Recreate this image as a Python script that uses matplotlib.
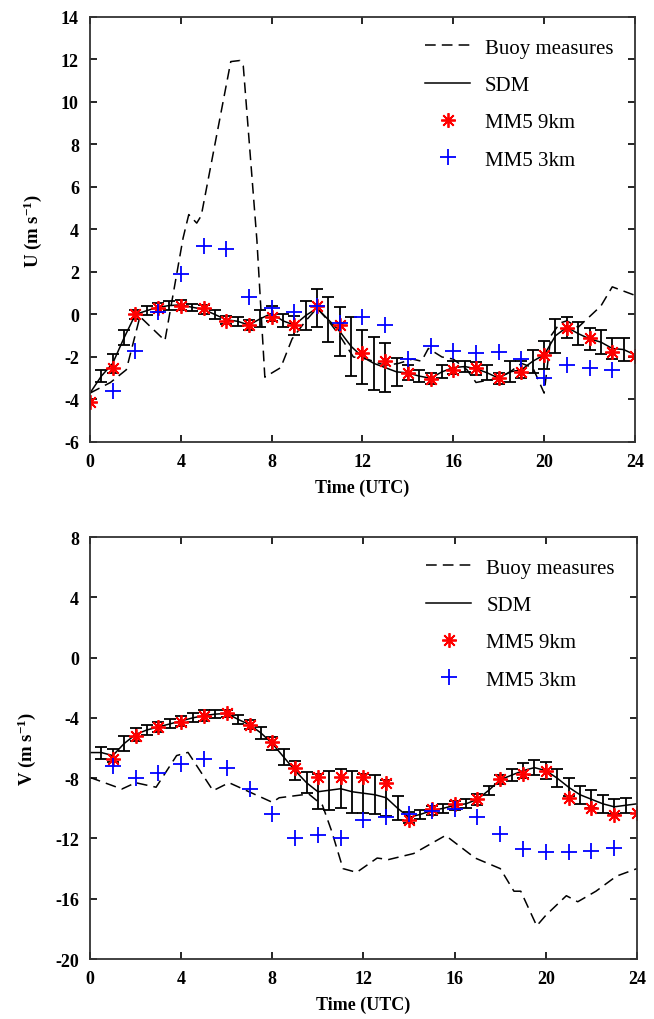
import matplotlib
matplotlib.use('Agg')
import matplotlib.pyplot as plt

plt.rcParams['font.family'] = 'Liberation Serif'
plt.rcParams['axes.unicode_minus'] = False
plt.rcParams['mathtext.fontset'] = 'custom'
plt.rcParams['mathtext.rm'] = 'Liberation Serif:bold'
plt.rcParams['mathtext.it'] = 'Liberation Serif:bold'
plt.rcParams['mathtext.bf'] = 'Liberation Serif:bold'

# hourly model output
hours = list(range(25))
sdm_t = [i / 2 for i in range(49)]

# ---- U component ----
buoy_u_t = [0, 0.9, 1.6, 2.2, 3.3, 4.1, 4.35, 4.7, 4.9, 6.2, 6.6, 6.75, 7.35, 7.7, 8.4, 8.9,
            9.5, 10.0, 10.5, 11.0, 11.6, 12.2, 13.0, 13.6, 14.2, 14.6, 14.9, 15.5, 16.0, 16.6,
            17.0, 17.5, 18.0, 18.5, 19.0, 19.5, 20.0, 20.3, 20.7, 21.0, 21.5, 22.0, 22.5, 23.0,
            23.5, 24.0]
buoy_u = [-3.7, -3.2, -2.6, -0.1, -1.23, 3.6, 4.7, 4.3, 4.65, 11.9, 11.95, 11.7, 3.5, -2.95, -2.5, -1.15,
          -0.3, 0.3, -0.3, -1.0, -2.0, -2.1, -2.4, -2.3, -2.1, -2.2, -1.6, -2.0, -2.1, -2.6,
          -3.2, -3.1, -3.0, -2.7, -2.3, -2.5, -3.7, -1.0, -0.4, -0.3, -0.6, -0.1, 0.4, 1.3,
          1.1, 0.9]
sdm_u = [-3.7, -2.9, -2.3, -1.1, 0.0, 0.18, 0.34, 0.42, 0.45, 0.34, 0.24, 0.0, -0.25, -0.32,
         -0.5, -0.2, 0.05, -0.3, -0.5, -0.05, 0.3, -0.25, -0.8, -1.5, -2.0, -2.3, -2.5, -2.7,
         -2.75, -2.9, -3.0, -2.7, -2.5, -2.45, -2.55, -2.75, -3.0, -2.7, -2.6, -2.2, -1.9, -1.0,
         -0.6, -0.9, -1.15, -1.3, -1.6, -1.65, -1.9]
sdm_u_err = [0.0, 0.3, 0.45, 0.35, 0.2, 0.22, 0.22, 0.23, 0.22, 0.16, 0.2, 0.2, 0.2, 0.2,
             0.24, 0.4, 0.35, 0.3, 0.45, 0.7, 0.9, 1.05, 1.15, 1.4, 1.25, 1.25, 1.15, 0.65,
             0.35, 0.3, 0.25, 0.3, 0.3, 0.28, 0.3, 0.35, 0.25, 0.5, 0.4, 0.55, 0.65, 0.8,
             0.5, 0.55, 0.5, 0.55, 0.5, 0.55, 0.0]
mm5_9_u = [-4.1, -2.5, 0.0, 0.3, 0.4, 0.3, -0.3, -0.5, -0.1, -0.5, 0.4, -0.5, -1.8,
           -2.2, -2.75, -3.05, -2.6, -2.5, -3.0, -2.7, -1.9, -0.65, -1.1, -1.75, -1.95]
mm5_3_u = [-3.6, -1.7, 0.1, 1.9, 3.2, 3.1, 0.8, 0.3, 0.1, 0.4, -0.4, -0.1, -0.5,
           -2.1, -1.5, -1.7, -1.8, -1.75, -2.1, -3.0, -2.4, -2.5, -2.6]

# ---- V component ----
buoy_v_t = [0, 1.4, 2.0, 2.9, 3.8, 4.3, 5.4, 6.1, 8.0, 8.3, 9.6, 10.2, 10.6, 11.1, 11.7, 12.6,
            13.1, 14.2, 15.6, 16.9, 18.0, 18.6, 18.9, 19.6, 20.0, 20.9, 21.4, 22.2, 23.1, 24.0]
buoy_v = [-7.95, -8.72, -8.3, -8.6, -6.5, -6.29, -8.83, -8.3, -9.6, -9.3, -9.05, -9.8, -11.5,
          -14.0, -14.25, -13.3, -13.4, -13.0, -11.8, -13.3, -14.0, -15.5, -15.5, -17.8, -17.1,
          -15.8, -16.2, -15.5, -14.5, -14.0]
sdm_v = [-6.3, -6.3, -6.5, -5.7, -5.1, -4.8, -4.6, -4.4, -4.2, -4.0, -3.85, -3.75, -3.7,
         -4.1, -4.45, -5.0, -5.7, -6.6, -7.5, -8.3, -8.9, -8.8, -8.7, -8.9, -9.0, -9.1,
         -9.3, -10.0, -10.6, -10.4, -10.15, -10.0, -9.8, -9.7, -9.4, -8.8, -8.1, -7.8, -7.5,
         -7.3, -7.5, -8.0, -8.6, -9.1, -9.4, -9.7, -9.9, -9.8, -9.7]
sdm_v_err = [0.0, 0.4, 0.45, 0.5, 0.4, 0.35, 0.35, 0.3, 0.35, 0.3, 0.35, 0.25, 0.25,
             0.3, 0.3, 0.4, 0.4, 0.55, 0.65, 0.7, 1.15, 1.3, 1.3, 1.4, 1.3, 1.3,
             1.2, 0.8, 0.35, 0.3, 0.3, 0.3, 0.3, 0.3, 0.35, 0.3, 0.3, 0.4, 0.5,
             0.5, 0.55, 0.6, 0.6, 0.6, 0.6, 0.6, 0.5, 0.5, 0.0]
mm5_9_v = [-6.7, -5.2, -4.6, -4.3, -3.85, -3.7, -4.45, -5.6, -7.3, -7.95, -7.9, -7.95,
           -8.3, -10.8, -10.05, -9.7, -9.4, -8.05, -7.7, -7.55, -9.3, -9.95, -10.45, -10.3]
mm5_3_v = [-7.2, -8.0, -7.65, -7.05, -6.75, -7.3, -8.7, -10.4, -12.0, -11.8, -12.0,
           -10.8, -10.6, -10.4, -10.15, -10.05, -10.6, -11.7, -12.7, -12.9, -12.9, -12.8, -12.6]


def panel(ax, buoy_t, buoy, sdm, sdm_err, mm9_t, mm9, mm3_t, mm3):
    ax.plot(buoy_t, buoy, color='black', lw=1.1, dashes=(7, 4), label='Buoy measures')
    ax.plot(sdm_t, sdm, color='black', lw=1.1, label='SDM')
    ax.errorbar(sdm_t[1:-1], sdm[1:-1], yerr=sdm_err[1:-1], fmt='none', ecolor='black',
                elinewidth=1.3, capsize=4, capthick=1.3)
    ax.plot(mm9_t, mm9, ls='none', marker=(8, 2, 0), ms=10.5, mew=1.3, color='red',
            label='MM5 9km')
    ax.plot(mm3_t, mm3, ls='none', marker='+', ms=12, mew=1.3, color='blue',
            label='MM5 3km')
    ax.set_xlim(0, 24)
    ax.set_xticks(range(0, 25, 4))
    ax.tick_params(direction='in', top=True, right=True, length=5, width=1.2,
                   labelsize=13, pad=8)
    for lab in ax.get_xticklabels() + ax.get_yticklabels():
        lab.set_fontweight('bold')
    for s in ax.spines.values():
        s.set_linewidth(1.3)
        s.set_color('#333333')
    ax.set_xlabel('Time (UTC)', fontsize=13, fontweight='bold', labelpad=6)
    ax.legend(loc='upper left', bbox_to_anchor=(0.615, 0.95), frameon=False, fontsize=15,
              handlelength=2.15, labelspacing=0.85, handletextpad=0.72,
              borderpad=0, borderaxespad=0)


fig = plt.figure(figsize=(6.54, 10.2), dpi=100)

ax1 = fig.add_axes([0.1376, 0.5657, 0.8333, 0.4167])
panel(ax1, buoy_u_t, buoy_u, sdm_u, sdm_u_err, hours, mm5_9_u, hours[1:24], mm5_3_u)
ax1.set_ylim(-6, 14)
ax1.set_yticks(range(-6, 15, 2))
ax1.set_ylabel('U (m s$^{-1}$)', fontsize=13.5, fontweight='bold', labelpad=12)

ax2 = fig.add_axes([0.1376, 0.0588, 0.8364, 0.4137])
panel(ax2, buoy_v_t, buoy_v, sdm_v, sdm_v_err, hours[1:], mm5_9_v, hours[1:24], mm5_3_v)
ax2.set_ylim(-20, 8)
ax2.set_yticks(range(-20, 9, 4))
ax2.set_ylabel('V (m s$^{-1}$)', fontsize=13.5, fontweight='bold', labelpad=12)

fig.savefig('out.png', dpi=100)
